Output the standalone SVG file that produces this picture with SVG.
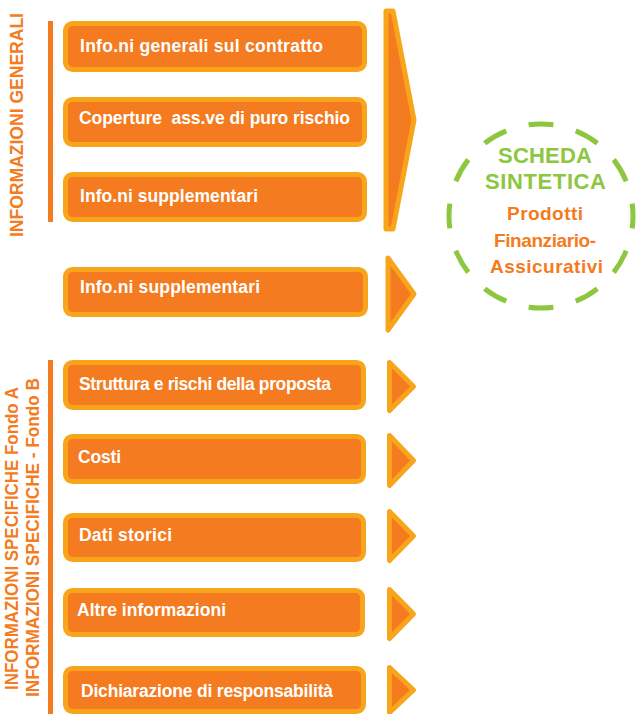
<svg xmlns="http://www.w3.org/2000/svg" width="637" height="714" viewBox="0 0 637 714">
  <style>
    .box { fill: #F47B20; stroke: #F9A51B; stroke-width: 5; }
    .arrow { fill: #F47B20; stroke: #F9A51B; stroke-width: 5; stroke-linejoin: round; }
    .bar { fill: #F47B20; }
    .lbl { font-family: "Liberation Sans", Arial, sans-serif; font-weight: bold; font-size: 17.5px; fill: #FFFFFF; }
    .side { font-family: "Liberation Sans", Arial, sans-serif; font-weight: bold; fill: #F47B20; text-anchor: middle; }
    .ring { fill: none; stroke: #8DC63F; stroke-width: 5; }
    .green { font-family: "Liberation Sans", Arial, sans-serif; font-weight: bold; font-size: 22px; fill: #8DC63F; text-anchor: middle; }
    .orange { font-family: "Liberation Sans", Arial, sans-serif; font-weight: bold; font-size: 19px; fill: #F47B20; text-anchor: middle; }
  </style>
  <rect width="637" height="714" fill="#FFFFFF"/>

  <!-- section headings -->
  <g id="sec-generali">
    <rect class="bar" x="48" y="21" width="5" height="201"/>
    <text class="side" font-size="19" transform="translate(23,125) rotate(-90)" textLength="224" lengthAdjust="spacingAndGlyphs">INFORMAZIONI GENERALI</text>
  </g>
  <g id="sec-specifiche">
    <rect class="bar" x="48" y="360" width="5" height="354"/>
    <text class="side" font-size="18" transform="translate(18,538.5) rotate(-90)" textLength="303" lengthAdjust="spacingAndGlyphs">INFORMAZIONI SPECIFICHE Fondo A</text>
    <text class="side" font-size="18" transform="translate(39,537.5) rotate(-90)" textLength="319" lengthAdjust="spacingAndGlyphs">INFORMAZIONI SPECIFICHE - Fondo B</text>
  </g>

  <!-- content boxes -->
  <g id="n1"><rect class="box" x="65.5" y="23.5" width="299" height="46" rx="7"/><text class="lbl" x="80" y="52" textLength="243">Info.ni generali sul contratto</text></g>
  <g id="n2"><rect class="box" x="65.5" y="99.5" width="299" height="45" rx="7"/><text class="lbl" x="79" y="124" textLength="271" xml:space="preserve">Coperture  ass.ve di puro rischio</text></g>
  <g id="n3"><rect class="box" x="65.5" y="174.5" width="299" height="45" rx="7"/><text class="lbl" x="80" y="202" textLength="178">Info.ni supplementari</text></g>
  <g id="n4"><rect class="box" x="65.5" y="269.5" width="300" height="45" rx="7"/><text class="lbl" x="80" y="293" textLength="180">Info.ni supplementari</text></g>
  <g id="n5"><rect class="box" x="65.5" y="362.5" width="298" height="45" rx="7"/><text class="lbl" x="79" y="390" textLength="252">Struttura e rischi della proposta</text></g>
  <g id="n6"><rect class="box" x="65.5" y="436.5" width="298" height="45" rx="7"/><text class="lbl" x="78" y="463" textLength="43">Costi</text></g>
  <g id="n7"><rect class="box" x="65.5" y="515.5" width="298" height="44" rx="7"/><text class="lbl" x="79" y="541" textLength="93">Dati storici</text></g>
  <g id="n8"><rect class="box" x="65.5" y="590.5" width="297" height="44" rx="7"/><text class="lbl" x="77" y="616" textLength="149">Altre informazioni</text></g>
  <g id="n9"><rect class="box" x="65.5" y="668.5" width="298" height="43" rx="7"/><text class="lbl" x="81" y="697" textLength="252">Dichiarazione di responsabilità</text></g>

  <!-- arrows pointing right -->
  <g id="connectors">
    <polygon class="arrow" points="386,11 393,11 414,120 393,229 386,229"/>
    <polygon class="arrow" points="388,258 414,294 388,330"/>
    <polygon class="arrow" points="389.5,362.5 413.5,386.5 389.5,410.5"/>
    <polygon class="arrow" points="389.5,435.5 413.5,460.5 389.5,485.5"/>
    <polygon class="arrow" points="389.5,511.5 413.5,536 389.5,560.5"/>
    <polygon class="arrow" points="389.5,589.5 413.5,614 389.5,638.5"/>
    <polygon class="arrow" points="389.5,667.5 413.5,690 389.5,712.5"/>
  </g>

  <!-- summary badge -->
  <g id="scheda">
    <circle class="ring" cx="541" cy="216" r="92" pathLength="120" stroke-dasharray="5.2 4.8" stroke-dashoffset="2.6"/>
    <text class="green" x="545" y="163" textLength="94">SCHEDA</text>
    <text class="green" x="545.5" y="189" textLength="121">SINTETICA</text>
    <text class="orange" x="545" y="220" textLength="76">Prodotti</text>
    <text class="orange" x="545" y="247" textLength="102">Finanziario-</text>
    <text class="orange" x="546.5" y="273" textLength="113">Assicurativi</text>
  </g>
</svg>
